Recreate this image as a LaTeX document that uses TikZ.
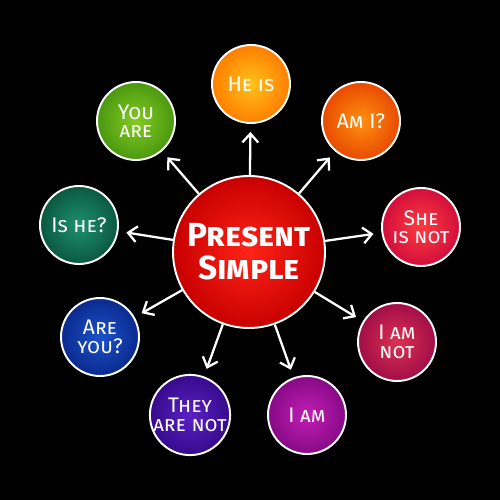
\documentclass[tikz,border=0pt]{standalone}
\usepackage{fontspec}
\setmainfont{Fira Sans}[Letters=SmallCaps]
\usetikzlibrary{arrows.meta}

\definecolor{psred}{HTML}{C80000}
\definecolor{psredin}{HTML}{FF2418}
\definecolor{heout}{HTML}{FF7E00}
\definecolor{hein}{HTML}{FFC21A}
\definecolor{amout}{HTML}{E84A00}
\definecolor{amin}{HTML}{FF9010}
\definecolor{sheout}{HTML}{D20E3C}
\definecolor{shein}{HTML}{FF3C40}
\definecolor{notout}{HTML}{A00E48}
\definecolor{notin}{HTML}{DE3050}
\definecolor{iamout}{HTML}{860A86}
\definecolor{iamin}{HTML}{C21EB4}
\definecolor{theyout}{HTML}{360A8C}
\definecolor{theyin}{HTML}{5A22C2}
\definecolor{youout}{HTML}{0A2A8E}
\definecolor{youin}{HTML}{1C52CA}
\definecolor{isout}{HTML}{0A5840}
\definecolor{isin}{HTML}{1E9070}
\definecolor{areout}{HTML}{4A9810}
\definecolor{arein}{HTML}{84CA22}

\tikzset{
  bubble/.style 2 args={circle, draw=white, line width=1.1pt, minimum size=1.56cm,
    inner sep=0pt, align=center, text=white, inner color=#1, outer color=#2,
    font=\fontsize{12}{10.5}\selectfont},
  arr/.style={white, line width=1.3pt, -{Straight Barb[length=5pt,width=9pt]},
    shorten >=0.16cm}
}

\begin{document}
\begin{tikzpicture}
  \useasboundingbox[fill=black] (0,0) rectangle (10,10);

  \node[bubble={psredin}{psred}, minimum size=3.04cm,
        font=\fontsize{19}{19}\selectfont\bfseries] (ps) at (4.98,4.96) {Present\\Simple};

  \node[bubble={hein}{heout}] (he) at (5.02,8.32) {He is};
  \node[bubble={amin}{amout}] (ami) at (7.22,7.58) {Am I?};
  \node[bubble={shein}{sheout}] (she) at (8.42,5.46) {She\\is not};
  \node[bubble={notin}{notout}] (iamnot) at (7.94,3.16) {I am\\not};
  \node[bubble={iamin}{iamout}] (iam) at (6.14,1.70) {I am};
  \node[bubble={theyin}{theyout}] (they) at (3.80,1.70) {They\\are not};
  \node[bubble={youin}{youout}] (areyou) at (2.00,3.26) {Are\\you?};
  \node[bubble={isin}{isout}] (ishe) at (1.58,5.50) {Is he?};
  \node[bubble={arein}{areout}] (youare) at (2.72,7.58) {You\\are};

  \draw[arr] (ps) -- (he);
  \draw[arr] (ps) -- (ami);
  \draw[arr] (ps) -- (she);
  \draw[arr] (ps) -- (iamnot);
  \draw[arr] (ps) -- (iam);
  \draw[arr] (ps) -- (they);
  \draw[arr] (ps) -- (areyou);
  \draw[arr] (ps) -- (ishe);
  \draw[arr] (ps) -- (youare);
\end{tikzpicture}
\end{document}
